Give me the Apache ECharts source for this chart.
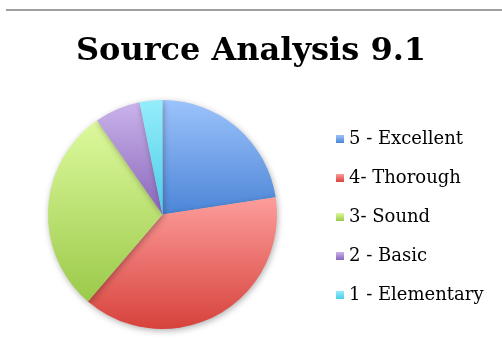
<!DOCTYPE html>
<html>
<head>
<meta charset="utf-8">
<script src="https://cdn.jsdelivr.net/npm/echarts@6/dist/echarts.min.js"></script>
<style>html,body{margin:0;padding:0;background:#fff}#c{width:502px;height:347px}</style>
</head>
<body>
<div id="c"></div>
<script>
const categories = ['5 - Excellent', '4- Thorough', '3- Sound', '2 - Basic', '1 - Elementary'];
const values = [7, 12, 9, 2, 1];
const topColors = ['#9cc3fb', '#fd9d9b', '#ddf99d', '#cab3eb', '#95edfb'];
const bottomColors = ['#4c85d7', '#d7423c', '#9bca4a', '#8966ba', '#4ccde8'];

const chart = echarts.init(document.getElementById('c'), null, {renderer: 'canvas'});
const data = categories.map((name, i) => ({
  name: name,
  value: values[i],
  itemStyle: {
    color: {type: 'linear', x: 0, y: 0, x2: 0, y2: 1,
      colorStops: [{offset: 0, color: topColors[i]}, {offset: 1, color: bottomColors[i]}]}
  }
}));
chart.setOption({
  animation: false,
  title: {
    text: 'Source Analysis 9.1',
    left: 'center',
    top: 31,
    padding: [5, 5, 5, 13],
    textStyle: {fontFamily: 'DejaVu Serif', fontWeight: 'bold', fontSize: 32, color: '#000'}
  },
  graphic: [{
    type: 'line', shape: {x1: 6, y1: 10, x2: 502, y2: 10},
    style: {stroke: '#a0a0a0', lineWidth: 2}
  }],
  legend: {
    orient: 'vertical',
    left: 331,
    top: 124,
    itemWidth: 8,
    itemHeight: 8,
    itemGap: 19,
    icon: 'rect',
    textStyle: {fontFamily: 'DejaVu Serif', fontSize: 18, color: '#000', lineHeight: 20},
    data: categories
  },
  series: [{
    type: 'pie',
    center: [162.5, 214.5],
    radius: 114.5,
    startAngle: 90,
    clockwise: true,
    label: {show: false},
    labelLine: {show: false},
    emphasis: {disabled: true},
    itemStyle: {shadowBlur: 6, shadowColor: 'rgba(0,0,0,0.3)', shadowOffsetX: 1, shadowOffsetY: 2},
    data: data
  }]
});
</script>
</body>
</html>
